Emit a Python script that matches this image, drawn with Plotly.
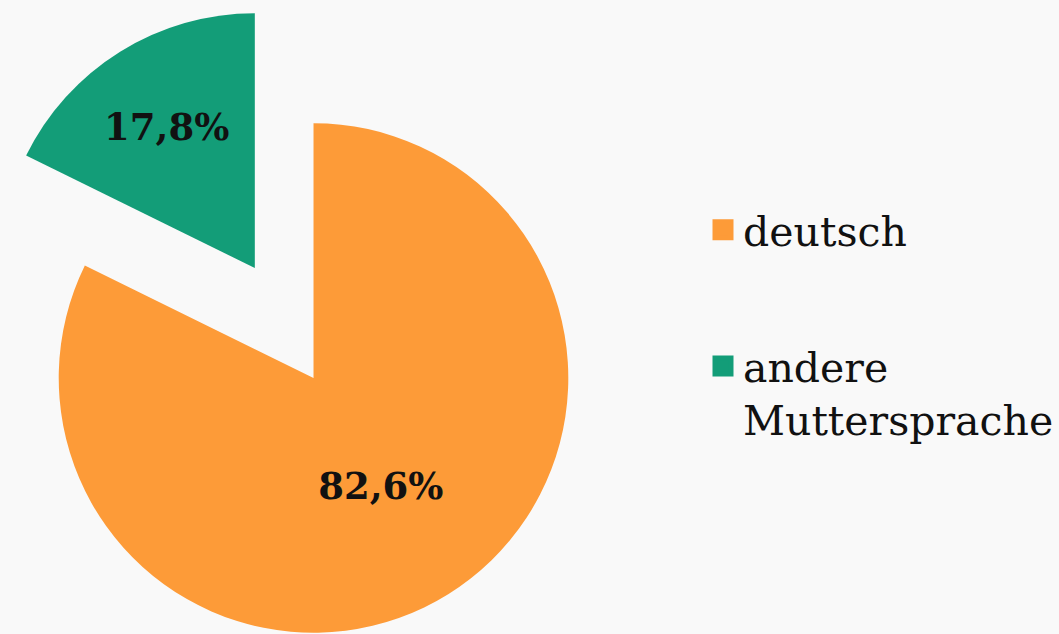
import plotly.graph_objects as go

# Muttersprache der Befragten
labels = ["deutsch", "andere Muttersprache"]
legend_labels = ["deutsch", "andere<br>Muttersprache"]
values = [82.6, 17.8]
colors = ["#FD9B38", "#139D78"]

texts = [f"{v:.1f}%".replace(".", ",") for v in values]
transparent = "rgba(0,0,0,0)"

W, H = 1059, 634
R = 256  # Radius in px

fig = go.Figure()

# Hauptsegment (deutsch)
fig.add_trace(go.Pie(
    labels=labels,
    values=values,
    sort=False,
    direction="clockwise",
    rotation=0,
    marker=dict(colors=[colors[0], transparent], line=dict(width=0)),
    text=[texts[0], ""],
    textinfo="text",
    textposition="inside",
    insidetextorientation="horizontal",
    domain=dict(x=[(315 - R) / W, (315 + R) / W], y=[0, 2 * R / H]),
    showlegend=False,
    hoverinfo="skip",
))

# herausgezogenes Segment (andere Muttersprache)
fig.add_trace(go.Pie(
    labels=labels,
    values=values,
    sort=False,
    direction="clockwise",
    rotation=0,
    marker=dict(colors=[transparent, colors[1]], line=dict(width=0)),
    text=["", texts[1]],
    textinfo="text",
    textposition="inside",
    insidetextorientation="horizontal",
    domain=dict(x=[0, 2 * R / W], y=[(H - 268 - R) / H, (H - 268 + R) / H]),
    showlegend=False,
    hoverinfo="skip",
))

# Legende
for i, (lab, col) in enumerate(zip(legend_labels, colors)):
    fig.add_trace(go.Scatter(
        x=[None], y=[None],
        mode="markers",
        name=lab,
        legendgroup=f"g{i}",
        marker=dict(symbol="square", size=16, color=col,
                    line=dict(color=col, width=5)),
    ))

fig.update_layout(
    width=W, height=H,
    margin=dict(l=0, r=0, t=0, b=0),
    paper_bgcolor="#f9f9f9",
    plot_bgcolor="#f9f9f9",
    font=dict(family="DejaVu Serif", color="#111111"),
    xaxis=dict(visible=False),
    yaxis=dict(visible=False),
    legend=dict(
        x=0.667, y=0.69, xanchor="left", yanchor="top",
        font=dict(size=41, family="DejaVu Serif", color="#111111"),
        bgcolor="rgba(0,0,0,0)",
        traceorder="grouped",
        tracegroupgap=80,
        valign="top",
    ),
)
fig.update_traces(selector=dict(type="pie"),
                  insidetextfont=dict(size=37, family="DejaVu Serif", color="#111111",
                                      weight="bold"))

fig.write_html("out.html",
               config={"displayModeBar": False},
               post_script="document.body.style.margin='0';"
                           "document.body.style.background='#f9f9f9';")
